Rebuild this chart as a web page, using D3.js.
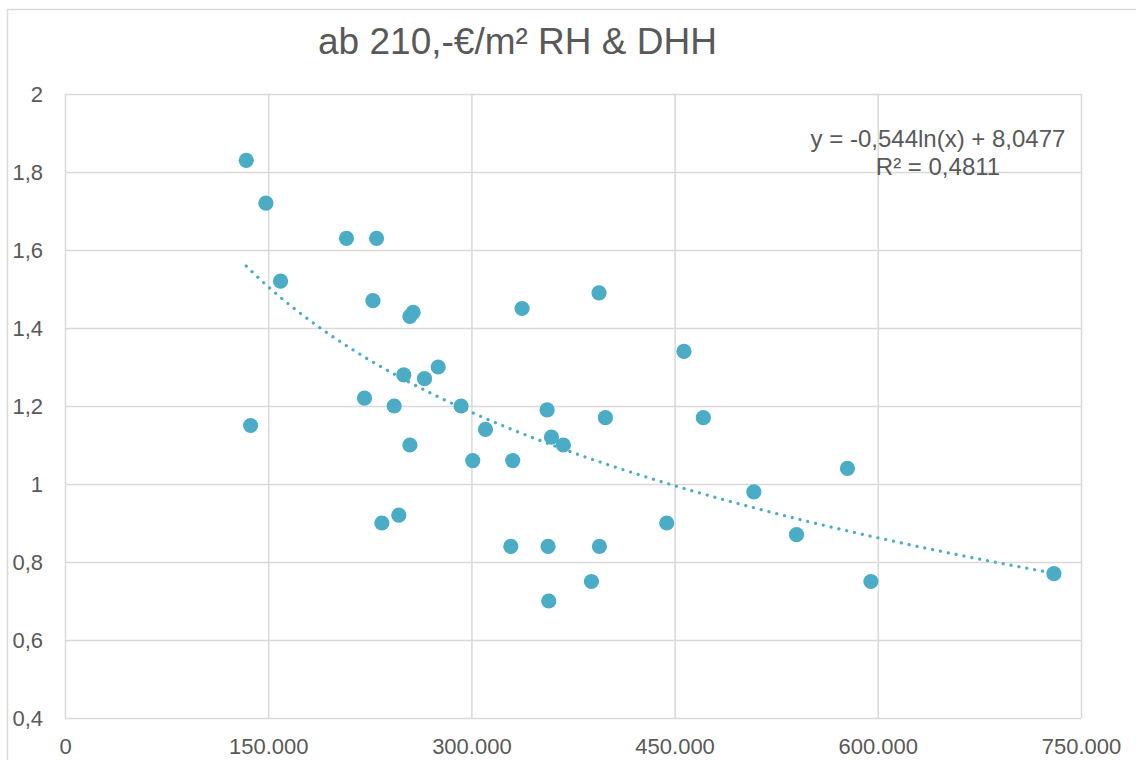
<!DOCTYPE html>
<html>
<head>
<meta charset="utf-8">
<script src="https://cdn.jsdelivr.net/npm/d3@7"></script>
<style>
  body { margin: 0; background: #fff; }
  svg { display: block; font-family: "Liberation Sans", Arial, sans-serif; }
</style>
</head>
<body>
<script>
// price (€) vs factor
const prices = [
  133800, 148300, 159100, 207800, 230000, 227300, 254600, 257000, 137000, 221100,
  250100, 265400, 275500, 243000, 292400, 254600, 301000, 233900, 246400, 337400,
  394200, 456900, 355900, 398900, 471200, 310400, 359100, 367900, 330500, 444200,
  329100, 356600, 394500, 388600, 357100, 508500, 577600, 540000, 594900, 730000
];
const factors = [
  1.83, 1.72, 1.52, 1.63, 1.63, 1.47, 1.43, 1.44, 1.15, 1.22,
  1.28, 1.27, 1.30, 1.20, 1.20, 1.10, 1.06, 0.90, 0.92, 1.45,
  1.49, 1.34, 1.19, 1.17, 1.17, 1.14, 1.12, 1.10, 1.06, 0.90,
  0.84, 0.84, 0.84, 0.75, 0.70, 0.98, 1.04, 0.87, 0.75, 0.77
];
const xTicks = [0, 150000, 300000, 450000, 600000, 750000];
const yTicks = [0.4, 0.6, 0.8, 1, 1.2, 1.4, 1.6, 1.8, 2];
const title = "ab 210,-€/m² RH & DHH";
const equation = ["y = -0,544ln(x) + 8,0477", "R² = 0,4811"];

const W = 1136;
const H = 760;
const plot = { left: 65, right: 1081, top: 94, bottom: 718 };
const color = "#4bacc6";
const textColor = "#595959";
const gridColor = "#d9d9d9";

const de = d3.formatLocale({ decimal: ",", thousands: ".", grouping: [3], currency: ["", "€"] });

const data = prices.map((p, i) => ({ x: p, y: factors[i] }));

const xScale = d3.scaleLinear().domain([0, 750000]).range([plot.left, plot.right]);
const yScale = d3.scaleLinear().domain([0.4, 2]).range([plot.bottom, plot.top]);

const svg = d3.select("body").append("svg").attr("width", W).attr("height", H);

svg.append("rect")
  .attr("x", 7.5).attr("y", 9.5)
  .attr("width", W).attr("height", H)
  .attr("fill", "#fff")
  .attr("stroke", gridColor)
  .attr("stroke-width", 1.5);

svg.append("text")
  .attr("x", 517.5).attr("y", 54)
  .attr("text-anchor", "middle")
  .attr("font-size", 37)
  .attr("fill", textColor)
  .text(title);

const xAxis = d3.axisBottom(xScale)
  .tickValues(xTicks)
  .tickSize(-(plot.bottom - plot.top))
  .tickFormat(de.format(",d"));

const yAxis = d3.axisLeft(yScale)
  .tickValues(yTicks)
  .tickSize(-(plot.right - plot.left))
  .tickFormat(de.format(".1~f"));

const gx = svg.append("g")
  .attr("transform", `translate(0 ${plot.bottom})`)
  .call(xAxis);
const gy = svg.append("g")
  .attr("transform", `translate(${plot.left} 0)`)
  .call(yAxis);

[gx, gy].forEach((g) => {
  g.select(".domain").remove();
  g.selectAll("line").attr("stroke", gridColor).attr("stroke-width", 1.5);
  g.selectAll("text")
    .attr("fill", textColor)
    .attr("font-size", 22)
    .attr("font-family", "'Liberation Sans', Arial, sans-serif");
});
gx.selectAll("text").attr("y", 36).attr("dy", 0);
gy.selectAll("text").attr("x", -22).attr("dy", "0.35em");

// logarithmic trendline fitted to the points (least squares on ln x)
const lx = data.map((d) => Math.log(d.x));
const mx = d3.mean(lx);
const my = d3.mean(data, (d) => d.y);
const slope = d3.sum(data, (d, i) => (lx[i] - mx) * (d.y - my)) / d3.sum(lx, (v) => (v - mx) ** 2);
const intercept = my - slope * mx;
const [x0, x1] = d3.extent(prices);
const trend = d3.range(0, 101).map((i) => {
  const x = x0 + ((x1 - x0) * i) / 100;
  return { x, y: slope * Math.log(x) + intercept };
});

svg.append("path")
  .datum(trend)
  .attr("fill", "none")
  .attr("stroke", color)
  .attr("stroke-width", 3.2)
  .attr("stroke-linecap", "round")
  .attr("stroke-dasharray", "0.1 7.9")
  .attr("d", d3.line().x((d) => xScale(d.x)).y((d) => yScale(d.y)));

svg.append("g")
  .selectAll("circle")
  .data(data)
  .enter()
  .append("circle")
  .attr("cx", (d) => xScale(d.x))
  .attr("cy", (d) => yScale(d.y))
  .attr("r", 7.6)
  .attr("fill", color);

svg.append("g")
  .selectAll("text")
  .data(equation)
  .enter()
  .append("text")
  .attr("x", 938)
  .attr("y", (d, i) => 147 + i * 28)
  .attr("text-anchor", "middle")
  .attr("font-size", 24)
  .attr("fill", textColor)
  .text((d) => d);
</script>
</body>
</html>
